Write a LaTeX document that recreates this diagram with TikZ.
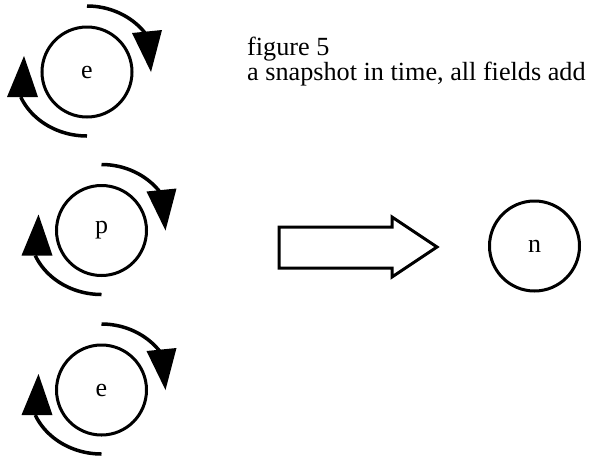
\documentclass[tikz,border=0pt]{standalone}
\usepackage{fontspec}
\setmainfont{Liberation Serif}
\newcommand\spinarrows[1]{%
  \begin{scope}[shift={(#1.center)}]
    \draw[spin] plot[domain=90:34,samples=25,smooth,variable=\t] ({72*cos(\t)},{-66*sin(\t)});
    \fill (45,-39) -- (75,-42) -- (64,0) -- cycle;
    \draw[spin] plot[domain=270:203,samples=25,smooth,variable=\t] ({72*cos(\t)},{-64*sin(\t)});
    \fill (-80,25) -- (-49,25) -- (-63,-16) -- cycle;
  \end{scope}}
\begin{document}
\begin{tikzpicture}[x=1pt,y=-1pt,
  particle/.style={circle,draw,line width=3pt,minimum size=90pt,inner sep=0pt,font=\fontsize{26}{30}\selectfont},
  spin/.style={line width=3.5pt},
  lbl/.style={anchor=base west,inner sep=0pt,font=\fontsize{26.2}{30}\selectfont},
  bigarrow/.style={draw,line width=3pt,line join=miter}]
\useasboundingbox (0,0) rectangle (594,459);
\node[particle] (e1) at (87,72) {e};
\node[particle] (p) at (101.5,230.5) {p};
\node[particle] (e2) at (101.5,390) {e};
\node[particle] (n) at (534.5,246) {n};
\spinarrows{e1}
\spinarrows{p}
\spinarrows{e2}
\draw[bigarrow] (279,227) -- (392,227) -- (392,217) -- (437,247) -- (392,277) -- (392,268) -- (279,268) -- cycle;
\node[lbl] (t1) at (247,55) {figure 5};
\node[lbl] (t2) at (247,80) {a snapshot in time, all fields add};
\end{tikzpicture}
\end{document}
